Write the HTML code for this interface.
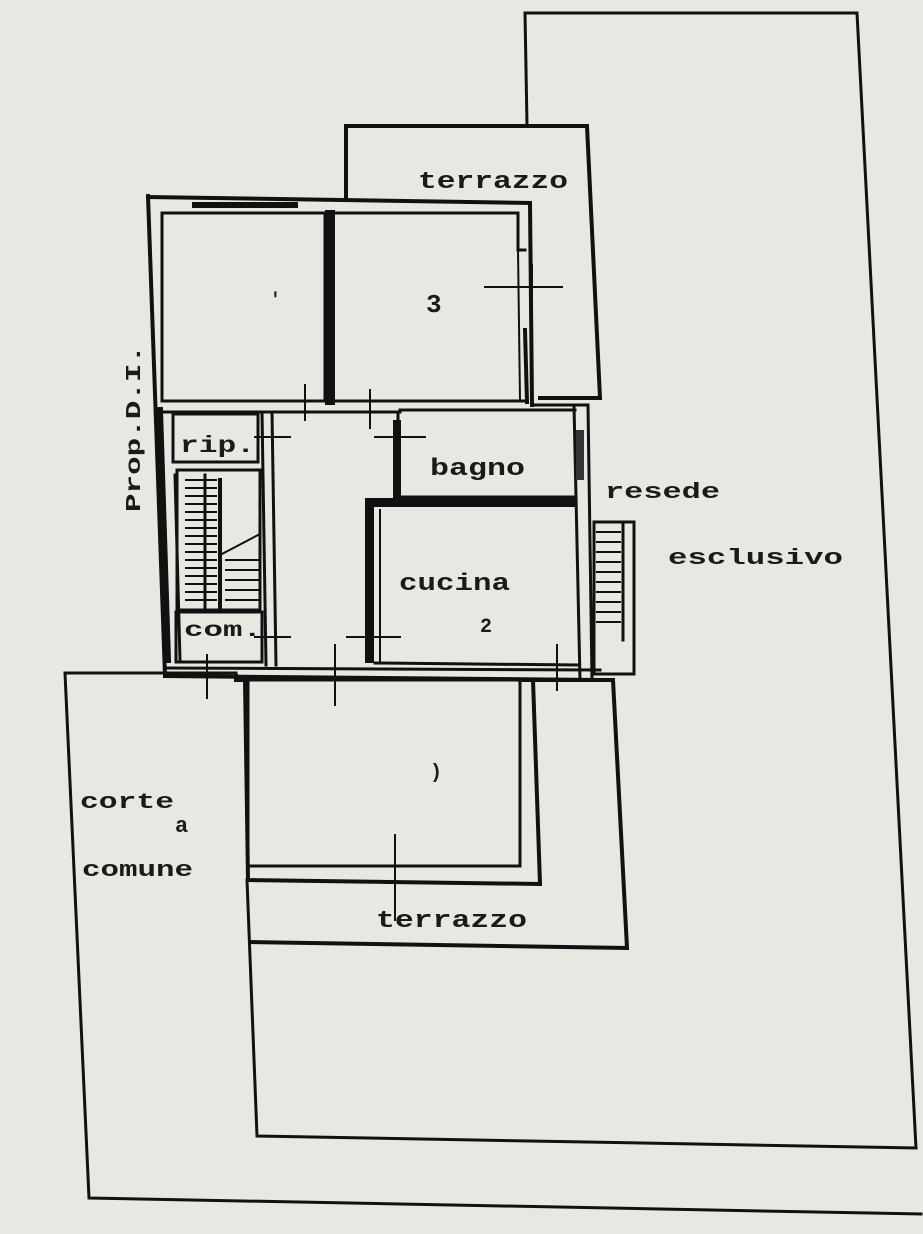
<!DOCTYPE html>
<html><head><meta charset="utf-8"><style>
html,body{margin:0;padding:0;background:#e9e7e2;}
svg{display:block}
text{font-family:"Liberation Mono",monospace;font-weight:bold;fill:#1a1a1a}
</style></head><body>
<svg width="923" height="1234" viewBox="0 0 923 1234" xmlns="http://www.w3.org/2000/svg">
<rect width="923" height="1234" fill="#e9e7e2"/>
<g fill="none" stroke="#111" stroke-linecap="square">
<!-- resede esclusivo outline -->
<polyline stroke-width="3" points="527,125 525,13 857,13 916,1148 257,1136 247,880"/>
<!-- corte comune -->
<polyline stroke-width="3" points="236,673 65,673 89,1198 921,1214"/>
<!-- upper terrazzo -->
<polyline stroke-width="4" points="346,198 346,126 587,126 600,398 540,398"/>
<!-- building outer -->
<line x1="148" y1="196" x2="165" y2="676" stroke-width="4"/>
<line x1="165" y1="676" x2="600" y2="680" stroke-width="4"/>
<line x1="148" y1="197" x2="530" y2="203" stroke-width="4"/>
<line x1="530" y1="203" x2="532" y2="405" stroke-width="4"/>
<!-- room 1 -->
<rect x="162" y="213" width="163" height="188" stroke-width="3"/>
<!-- room 3 -->
<polyline stroke-width="3" points="336,213 518,213 518,250 525,250"/>
<line x1="525" y1="330" x2="527" y2="402" stroke-width="4"/>
<line x1="518" y1="250" x2="520" y2="400" stroke-width="2"/>
<rect x="325" y="210" width="10" height="195" fill="#111" stroke="none"/>
<line x1="336" y1="401" x2="525" y2="401" stroke-width="3"/>
<!-- window top of room1 -->
<line x1="195" y1="205" x2="295" y2="205" stroke-width="6"/>
<!-- hall wall line -->
<line x1="162" y1="412" x2="400" y2="412" stroke-width="3"/>
<line x1="400" y1="410" x2="575" y2="410" stroke-width="3"/>
<line x1="532" y1="405" x2="588" y2="405" stroke-width="3"/>
<!-- rip -->
<rect x="173" y="414" width="85" height="48" stroke-width="3"/>
<!-- stairs box -->
<rect x="177" y="470" width="83" height="140" stroke-width="3"/>
<line x1="160" y1="410" x2="168" y2="660" stroke-width="6"/>
<line x1="175" y1="475" x2="180" y2="660" stroke-width="3"/>
<g stroke-width="2">
<line x1="186" y1="480" x2="216" y2="480"/><line x1="186" y1="488" x2="216" y2="488"/>
<line x1="186" y1="496" x2="216" y2="496"/><line x1="186" y1="504" x2="216" y2="504"/>
<line x1="186" y1="512" x2="216" y2="512"/><line x1="186" y1="520" x2="216" y2="520"/>
<line x1="186" y1="528" x2="216" y2="528"/><line x1="186" y1="536" x2="216" y2="536"/>
<line x1="186" y1="544" x2="216" y2="544"/><line x1="186" y1="552" x2="216" y2="552"/>
<line x1="186" y1="560" x2="216" y2="560"/><line x1="186" y1="568" x2="216" y2="568"/>
<line x1="186" y1="576" x2="216" y2="576"/><line x1="186" y1="584" x2="216" y2="584"/>
<line x1="186" y1="592" x2="216" y2="592"/><line x1="186" y1="600" x2="216" y2="600"/>
<line x1="226" y1="560" x2="258" y2="560"/><line x1="226" y1="570" x2="258" y2="570"/>
<line x1="226" y1="580" x2="258" y2="580"/><line x1="226" y1="590" x2="258" y2="590"/>
<line x1="226" y1="600" x2="258" y2="600"/>
<line x1="220" y1="555" x2="258" y2="535"/>
</g>
<line x1="220" y1="480" x2="220" y2="610" stroke-width="4"/>
<line x1="205" y1="475" x2="205" y2="610" stroke-width="3"/>
<!-- com -->
<rect x="176" y="612" width="86" height="50" stroke-width="3"/>
<!-- hall right boundaries -->
<line x1="262" y1="412" x2="266" y2="665" stroke-width="3"/>
<line x1="272" y1="412" x2="276" y2="665" stroke-width="3"/>
<!-- bagno -->
<polyline stroke-width="3" points="398,412 398,497 575,497"/>
<rect x="393" y="420" width="8" height="80" fill="#111" stroke="none"/>
<!-- cucina -->
<rect x="365" y="498" width="210" height="9" fill="#111" stroke="none"/>
<rect x="365" y="498" width="9" height="165" fill="#111" stroke="none"/>
<line x1="380" y1="510" x2="380" y2="662" stroke-width="2"/>
<line x1="375" y1="663" x2="578" y2="665" stroke-width="3"/>
<!-- right wall -->
<line x1="574" y1="405" x2="580" y2="680" stroke-width="3"/>
<line x1="588" y1="405" x2="592" y2="680" stroke-width="3"/>
<rect x="576" y="430" width="8" height="50" fill="#333" stroke="none"/>
<!-- right stair -->
<rect x="594" y="522" width="40" height="152" stroke-width="3"/>
<g stroke-width="2">
<line x1="597" y1="532" x2="620" y2="532"/><line x1="597" y1="542" x2="620" y2="542"/>
<line x1="597" y1="552" x2="620" y2="552"/><line x1="597" y1="562" x2="620" y2="562"/>
<line x1="597" y1="572" x2="620" y2="572"/><line x1="597" y1="582" x2="620" y2="582"/>
<line x1="597" y1="592" x2="620" y2="592"/><line x1="597" y1="602" x2="620" y2="602"/>
<line x1="597" y1="612" x2="620" y2="612"/><line x1="597" y1="622" x2="620" y2="622"/>
</g>
<line x1="623" y1="525" x2="623" y2="640" stroke-width="3"/>
<!-- bottom building wall -->
<line x1="165" y1="668" x2="600" y2="670" stroke-width="3"/>
<!-- lower room -->
<polyline stroke-width="4" points="236,676 236,680 245,680 248,880 540,884 533,680 520,680"/>
<rect x="248" y="680" width="272" height="186" stroke-width="3"/>
<!-- lower terrazzo -->
<polyline stroke-width="4" points="533,680 613,680 627,948 250,942"/>
<!-- door ticks -->
<g stroke-width="2">
<line x1="305" y1="385" x2="305" y2="420"/><line x1="370" y1="390" x2="370" y2="428"/>
<line x1="255" y1="437" x2="290" y2="437"/><line x1="375" y1="437" x2="425" y2="437"/>
<line x1="255" y1="637" x2="290" y2="637"/><line x1="347" y1="637" x2="400" y2="637"/>
<line x1="207" y1="655" x2="207" y2="698"/><line x1="335" y1="645" x2="335" y2="705"/>
<line x1="557" y1="645" x2="557" y2="690"/>
<line x1="485" y1="287" x2="562" y2="287"/><line x1="532" y1="265" x2="532" y2="305"/>
<line x1="395" y1="835" x2="395" y2="920"/>
</g>
</g>
<text x="418" y="188" font-size="24" textLength="150" lengthAdjust="spacingAndGlyphs">terrazzo</text>
<text x="430" y="475" font-size="24" textLength="95" lengthAdjust="spacingAndGlyphs">bagno</text>
<text x="399" y="590" font-size="24" textLength="111" lengthAdjust="spacingAndGlyphs">cucina</text>
<text x="180" y="452" font-size="23" textLength="75" lengthAdjust="spacingAndGlyphs">rip.</text>
<text x="184" y="636" font-size="21" textLength="78" lengthAdjust="spacingAndGlyphs">com.</text>
<text x="605" y="498" font-size="22" textLength="115" lengthAdjust="spacingAndGlyphs">resede</text>
<text x="668" y="564" font-size="22" textLength="175" lengthAdjust="spacingAndGlyphs">esclusivo</text>
<text x="80" y="808" font-size="22" textLength="94" lengthAdjust="spacingAndGlyphs">corte</text>
<text x="175" y="832" font-size="22">a</text>
<text x="82" y="876" font-size="22" textLength="111" lengthAdjust="spacingAndGlyphs">comune</text>
<text x="376" y="927" font-size="24" textLength="151" lengthAdjust="spacingAndGlyphs">terrazzo</text>
<text x="426" y="312" font-size="26" font-weight="normal">3</text>
<text x="270" y="305" font-size="18" font-weight="normal">'</text>
<text x="480" y="632" font-size="20" font-weight="normal">2</text>
<text x="430" y="778" font-size="20" font-weight="normal">)</text>
<text x="140" y="512" font-size="21" textLength="167" lengthAdjust="spacingAndGlyphs" transform="rotate(-90 140 512)">Prop.D.I.</text>
</svg>
</body></html>
